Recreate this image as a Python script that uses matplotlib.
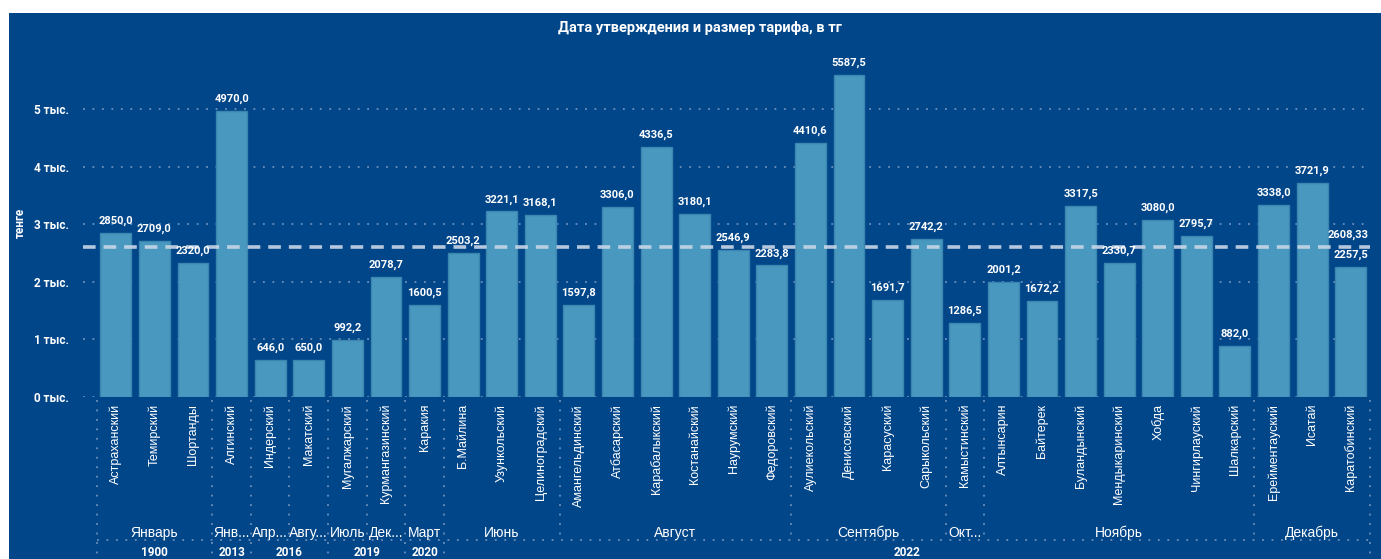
import matplotlib
matplotlib.use("Agg")
import matplotlib.pyplot as plt
from matplotlib.patches import Rectangle
from matplotlib.transforms import blended_transform_factory

# ---------------- data ----------------
districts = ["Астраханский", "Темирский", "Шортанды", "Алгинский", "Индерский",
             "Макатский", "Мугалжарский", "Курмангазинский", "Каракия", "Б.Майлина",
             "Узункольский", "Целиноградский", "Амангельдинский", "Атбасарский",
             "Карабалыкский", "Костанайский", "Наурумский", "Федоровский",
             "Аулиекольский", "Денисовский", "Карасуский", "Сарыкольский",
             "Камыстинский", "Алтынсарин", "Байтерек", "Буландынский",
             "Мендыкаринский", "Хобда", "Чингирлауский", "Шалкарский",
             "Ерейментауский", "Исатай", "Каратобинский"]
values = [2850.0, 2709.0, 2320.0, 4970.0, 646.0, 650.0, 992.2, 2078.7, 1600.5,
          2503.2, 3221.1, 3168.1, 1597.8, 3306.0, 4336.5, 3180.1, 2546.9, 2283.8,
          4410.6, 5587.5, 1691.7, 2742.2, 1286.5, 2001.2, 1672.2, 3317.5, 2330.7,
          3080.0, 2795.7, 882.0, 3338.0, 3721.9, 2257.5]
month_labels = ["Январь", "Янв...", "Апр...", "Авгу...", "Июль", "Дек...", "Март",
                "Июнь", "Август", "Сентябрь", "Окт...", "Ноябрь", "Декабрь"]
month_counts = [3, 1, 1, 1, 1, 1, 1, 3, 6, 4, 1, 7, 3]
year_labels = ["1900", "2013", "2016", "2019", "2020", "2022"]
year_counts = [3, 1, 2, 2, 1, 24]
average = 2608.33
y_ticks = [0, 1000, 2000, 3000, 4000, 5000]
y_tick_labels = ["0 тыс.", "1 тыс.", "2 тыс.", "3 тыс.", "4 тыс.", "5 тыс."]
title = "Дата утверждения и размер тарифа, в тг"
y_label = "тенге"

# ---------------- style ----------------
NAVY = "#02468a"
BAR = "#4898bf"
BAR_EDGE = "#3a86b0"
GRID = "#7d9cc3"
BOLD_FONT = ["Roboto", "DejaVu Sans"]
REG_FONT = ["Liberation Sans", "DejaVu Sans"]

W, H = 1381, 559
fig = plt.figure(figsize=(W / 100, H / 100), dpi=100)
fig.patch.set_facecolor("white")
# navy card
fig.add_artist(Rectangle((9 / W, 0), 1 - 9 / W, 1 - 13 / H, transform=fig.transFigure,
                         facecolor=NAVY, edgecolor="none", zorder=0))

ax_left, ax_right = 83 / W, 1370 / W
ax_bottom = (H - 397) / H
ax_top = (H - 51.4) / H
ax = fig.add_axes([ax_left, ax_bottom, ax_right - ax_left, ax_top - ax_bottom])
ax.set_facecolor("none")
ax.set_zorder(2)

n = len(values)
x = list(range(n))
ax.bar(x, values, width=0.8, color=BAR, edgecolor=BAR_EDGE, linewidth=1.0, zorder=3)
ax.set_xlim(-0.85, n - 0.5)
ax.set_ylim(0, 6000)

for s in ax.spines.values():
    s.set_visible(False)

ax.set_yticks(y_ticks)
ax.set_yticklabels(y_tick_labels, color="white", fontsize=8.5, fontweight="bold",
                   family=BOLD_FONT)
ax.tick_params(axis="y", length=0, pad=10)
ax.yaxis.grid(True, color=GRID, linestyle=(0, (1.2, 5)), linewidth=1.1)
ax.set_axisbelow(True)

ax.set_xticks(x)
ax.set_xticklabels(districts, rotation=90, color="white", fontsize=9,
                   family=REG_FONT, va="top", ha="center")
ax.tick_params(axis="x", length=0, pad=5)

# value labels
for xi, v in zip(x, values):
    ax.annotate(f"{v:.1f}".replace(".", ","), (xi, v), xytext=(0, 5),
                textcoords="offset points", ha="center", va="bottom",
                color="white", fontsize=8, fontweight="bold", family=BOLD_FONT,
                zorder=5)

# average line
ax.axhline(average, color="#c9d6e6", linestyle=(0, (3.5, 2.2)), linewidth=2.6,
           zorder=4, alpha=0.9)
ax.annotate(f"{average:.2f}".replace(".", ","), (n - 1, average), xytext=(-2, 5),
            textcoords="offset points", ha="center", va="bottom", color="white",
            fontsize=8, fontweight="bold", family=BOLD_FONT, zorder=5)

# hierarchical axis
trans = blended_transform_factory(ax.transData, ax.transAxes)
ax_h_px = 397 - 51.4
def ay(py):  # pixel y (from top) -> axes fraction
    return (397 - py) / ax_h_px

year_bounds = set()
pos = -0.5
year_bounds.add(pos)
for cnt in year_counts:
    pos += cnt
    year_bounds.add(pos)

pos = -0.5
ax.plot([-0.5, -0.5], [ay(400), ay(559)], transform=trans, clip_on=False,
        color=GRID, linestyle=(0, (1.2, 5)), linewidth=1.1)
for lab, cnt in zip(month_labels, month_counts):
    center = pos + cnt / 2
    ax.text(center, ay(533), lab, transform=trans, ha="center", va="center",
            color="white", fontsize=10, family=REG_FONT)
    pos += cnt
    bottom = ay(559) if pos in year_bounds else ay(540)
    ax.plot([pos, pos], [ay(400), bottom], transform=trans, clip_on=False,
            color=GRID, linestyle=(0, (1.2, 5)), linewidth=1.1)

ax.plot([-0.5, n - 0.5], [ay(540), ay(540)], transform=trans, clip_on=False,
        color=GRID, linestyle=(0, (1.2, 5)), linewidth=1.1)

pos = -0.5
for lab, cnt in zip(year_labels, year_counts):
    center = pos + cnt / 2
    ax.text(center, ay(552), lab, transform=trans, ha="center", va="center",
            color="white", fontsize=8.5, fontweight="bold", family=BOLD_FONT)
    pos += cnt

# title and y label
fig.text(700 / W, 1 - 28 / H, title, ha="center", va="center", color="white",
         fontsize=10.5, fontweight="bold", family=BOLD_FONT)
fig.text(20 / W, 1 - 223 / H, y_label, ha="center", va="center", rotation=90,
         color="white", fontsize=8.5, fontweight="bold", family=BOLD_FONT)

fig.savefig("out.png", dpi=100, facecolor=fig.get_facecolor())
